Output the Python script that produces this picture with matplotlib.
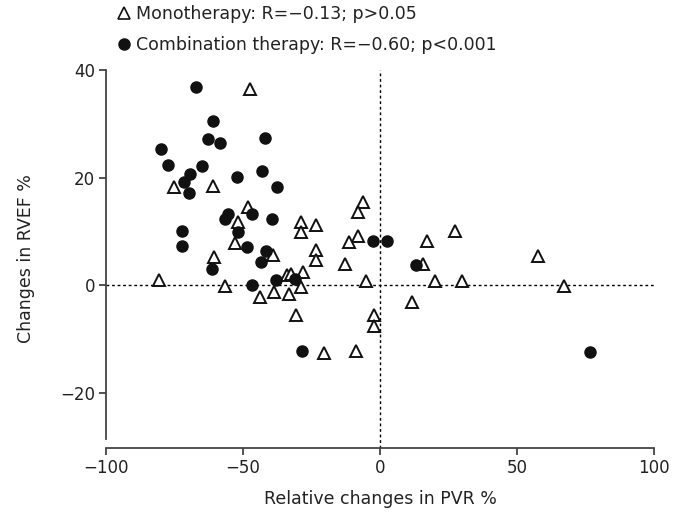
import matplotlib
matplotlib.use("Agg")
import matplotlib.pyplot as plt
from matplotlib.lines import Line2D

plt.rcParams['font.family'] = ['DejaVu Sans']

# monotherapy (open triangles)
mono_x = [-47.3, -75.3, -60.9, -48.1, -51.8, -53.0, -39.0, -60.7, -56.7, -34.1,
          -32.5, -43.9, -38.8, -33.2, -30.7, -80.8, -6.1, -7.9, -28.9, -23.2,
          -28.9, 27.2, -7.9, -11.2, 17.1, -23.2, -23.2, -12.8, 15.8, -28.0,
          -5.1, 20.2, 29.9, -28.9, 11.7, -2.1, -2.1, -20.5, -8.8, 57.5, 67.3]
mono_y = [36.4, 18.2, 18.5, 14.5, 11.8, 7.9, 5.6, 5.2, -0.2, 1.9,
          2.0, -2.3, -1.2, -1.7, -5.6, 0.9, 15.5, 13.5, 11.8, 11.2,
          9.9, 10.0, 9.1, 8.1, 8.2, 6.5, 4.7, 3.9, 4.0, 2.5,
          0.8, 0.8, 0.8, -0.4, -3.1, -5.6, -7.6, -12.7, -12.3, 5.4, -0.2]

# combination therapy (filled circles)
comb_x = [-67.0, -60.8, -62.8, -58.3, -41.9, -80.1, -77.5, -65.1, -69.2, -42.9,
          -52.2, -71.7, -69.7, -37.5, -55.4, -46.9, -56.7, -39.5, -52.0, -72.2,
          -72.2, -48.7, -41.7, -43.6, -61.2, -46.7, -37.8, -31.2, -28.3, -2.7,
          2.7, 13.2, 76.5]
comb_y = [36.8, 30.5, 27.2, 26.5, 27.4, 25.4, 22.3, 22.2, 20.7, 21.3,
          20.1, 19.2, 17.1, 18.2, 13.3, 13.3, 12.2, 12.2, 9.9, 10.1,
          7.3, 7.1, 6.3, 4.2, 3.0, 0.1, 0.9, 1.2, -12.3, 8.2,
          8.2, 3.7, -12.4]

mono_label = "Monotherapy: R=\u22120.13; p>0.05"
comb_label = "Combination therapy: R=\u22120.60; p<0.001"

fig = plt.figure(figsize=(6.86, 5.14), dpi=100)
ax = fig.add_axes([0.1545, 0.1284, 0.799, 0.7354])

ax.axhline(0, color='black', lw=1, ls=(0, (2, 2)), zorder=1)
ax.axvline(0, color='black', lw=1, ls=(0, (2, 2)), zorder=1)

ax.plot(mono_x, mono_y, ls='none', marker='^', ms=9, mfc='white', mec='#111111',
        mew=1.4, clip_on=False, zorder=3)
ax.plot(comb_x, comb_y, ls='none', marker='o', ms=8, mfc='#111111', mec='#111111',
        clip_on=False, zorder=4)

ax.set_xlim(-100, 100)
ax.set_ylim(-30.3, 40)
ax.set_xticks([-100, -50, 0, 50, 100])
ax.set_yticks([-20, 0, 20, 40])
ax.set_xticklabels(['\u2212100', '\u221250', '0', '50', '100'])
ax.set_yticklabels(['\u221220', '0', '20', '40'])

for s in ['top', 'right']:
    ax.spines[s].set_visible(False)
ax.spines['left'].set_bounds(-28.6, 40)
for s in ['left', 'bottom']:
    ax.spines[s].set_color('#444444')
    ax.spines[s].set_linewidth(1.3)
ax.tick_params(direction='out', length=5, width=1.3, color='#444444',
               labelsize=12, labelcolor='#222222', pad=3)

ax.set_xlabel('Relative changes in PVR %', fontsize=12.5, color='#222222', labelpad=9)
ax.set_ylabel('Changes in RVEF %', fontsize=12.5, color='#222222', labelpad=18)

handles = [
    Line2D([], [], ls='none', marker='^', ms=8, mfc='white', mec='#111111', mew=1.2),
    Line2D([], [], ls='none', marker='o', ms=8, mfc='#111111', mec='#111111'),
]
fig.legend(handles, [mono_label, comb_label], loc='upper left',
           bbox_to_anchor=(0.158, 1.003), frameon=False, fontsize=12.5,
           handletextpad=0.2, handlelength=1.0, labelspacing=0.75,
           labelcolor='#222222', borderaxespad=0)

fig.savefig('out.png', dpi=100)
